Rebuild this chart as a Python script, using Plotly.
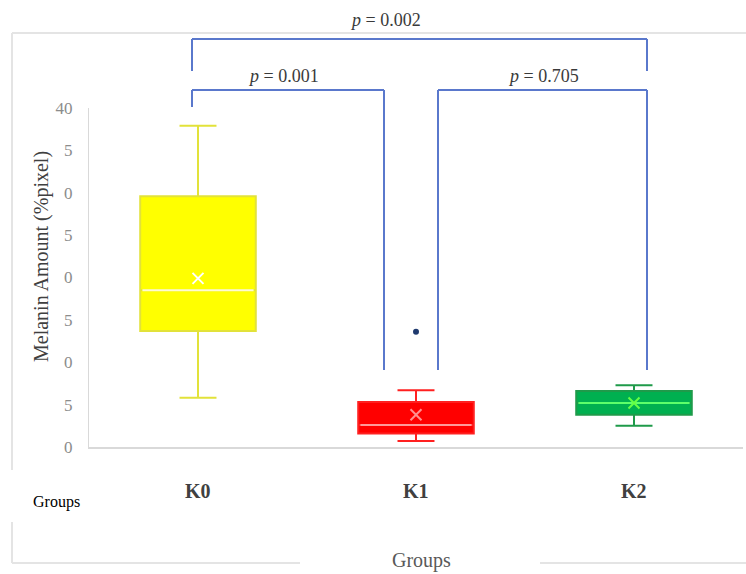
import plotly.graph_objects as go

groups = ["K0", "K1", "K2"]
upper_whisker = [37.9, 6.7, 7.3]
q3 = [29.6, 5.3, 6.6]
median = [18.5, 2.6, 5.2]
mean = [19.9, 3.8, 5.2]
q1 = [13.7, 1.6, 3.8]
lower_whisker = [5.8, 0.7, 2.5]
outlier_group = [1]
outlier_value = [13.6]

y_tickvals = [0, 5, 10, 15, 20, 25, 30, 35, 40]
y_ticktext = ["0", "5", "0", "5", "0", "5", "0", "5", "40"]

p_labels = ["p = 0.002", "p = 0.001", "p = 0.705"]

fill_colors = ["#ffff00", "#ff0000", "#00b050"]
whisker_colors = ["#e2e23a", "#ff2020", "#1f9a4a"]
median_colors = ["#fffbd0", "#ff9a9a", "#5dff6a"]
mean_colors = ["#ffffff", "#ff9090", "#66ff44"]

W, H = 746, 574
ML, MR, MT, MB = 89, 3, 108, 127
pw = W - ML - MR
ph = H - MT - MB

def px_x(px):
    return (px - ML) / pw

def px_y(py):
    return (H - MB - py) / ph

fig = go.Figure()
bw = 0.53
for i, g in enumerate(groups):
    fig.add_trace(go.Box(
        x=[i], q1=[q1[i]], median=[median[i]], q3=[q3[i]],
        lowerfence=[lower_whisker[i]], upperfence=[upper_whisker[i]],
        width=bw, whiskerwidth=0.32,
        fillcolor=fill_colors[i],
        line=dict(color=whisker_colors[i], width=2),
        boxpoints=False, hoverinfo="skip", showlegend=False,
    ))
    fig.add_trace(go.Scatter(
        x=[i - bw / 2 + 0.01, i + bw / 2 - 0.01], y=[median[i], median[i]],
        mode="lines", line=dict(color=median_colors[i], width=2),
        hoverinfo="skip", showlegend=False,
    ))
    fig.add_trace(go.Scatter(
        x=[i], y=[mean[i]], mode="markers",
        marker=dict(symbol="x-thin", size=11, line=dict(color=mean_colors[i], width=2)),
        hoverinfo="skip", showlegend=False,
    ))

fig.add_trace(go.Scatter(
    x=outlier_group, y=outlier_value, mode="markers",
    marker=dict(color="#1f3a6e", size=6),
    hoverinfo="skip", showlegend=False,
))

serif = "Liberation Serif, Times New Roman, serif"
bracket_col = "#5a78cc"
shapes = []

def seg(x0, y0, x1, y1, col=bracket_col):
    shapes.append(dict(type="line", xref="paper", yref="paper",
                       x0=px_x(x0), y0=px_y(y0), x1=px_x(x1), y1=px_y(y1),
                       line=dict(color=col, width=2)))

# top bracket K0-K2
seg(192, 39, 647, 39); seg(192, 39, 192, 71); seg(647, 39, 647, 71)
# K0-K1 bracket
seg(192, 90, 384, 90); seg(192, 90, 192, 107); seg(384, 90, 384, 370)
# K1-K2 bracket
seg(438, 90, 647, 90); seg(438, 90, 438, 370); seg(647, 90, 647, 370)

frame_col = "#e4e4e4"
seg(12, 33, 746, 33, frame_col)
seg(12, 33, 12, 470, frame_col)
seg(12, 522, 12, 563, frame_col)
seg(12, 563, 300, 563, frame_col)
seg(540, 563, 746, 563, frame_col)

def ann(text, x, y, size, color, xref="paper", angle=0):
    return dict(text=text, x=x, y=y, xref=xref, yref="paper", xanchor="center",
                yanchor="middle", showarrow=False, textangle=angle,
                font=dict(family=serif, size=size, color=color))

annotations = []
p_pos = [(385, 20), (283, 76), (543, 76)]
for lab, (x, y) in zip(p_labels, p_pos):
    txt = "<i>p</i>" + lab[1:]
    annotations.append(ann(txt, px_x(x), px_y(y), 18, "#3a3a3a"))

for i, g in enumerate(groups):
    annotations.append(ann("<b>" + g + "</b>", i, px_y(491), 20, "#404040", xref="x"))

annotations.append(ann("Groups", px_x(56), px_y(502), 16, "#000000"))
annotations.append(ann("Groups", px_x(422), px_y(560), 20, "#595959"))
annotations.append(ann("Melanin Amount (%pixel)", px_x(41), px_y(257), 20, "#404040", angle=-90))

fig.update_layout(
    width=W, height=H,
    margin=dict(l=ML, r=MR, t=MT, b=MB, autoexpand=False),
    paper_bgcolor="white", plot_bgcolor="white",
    showlegend=False, hovermode=False,
    shapes=shapes, annotations=annotations,
    xaxis=dict(range=[-0.5, 2.5], showticklabels=False, showgrid=False, zeroline=False,
               showline=True, linecolor="#d9d9d9", linewidth=2, ticks=""),
    yaxis=dict(range=[0, 40], tickvals=y_tickvals, ticktext=y_ticktext,
               showgrid=False, zeroline=False, showline=True, linecolor="#d9d9d9", linewidth=1,
               ticks="", ticklabelstandoff=12,
               tickfont=dict(family=serif, size=17, color="#8c8c8c")),
)

fig.write_html("out.html", config={"displayModeBar": False},
               post_script="document.body.style.margin='0';")
